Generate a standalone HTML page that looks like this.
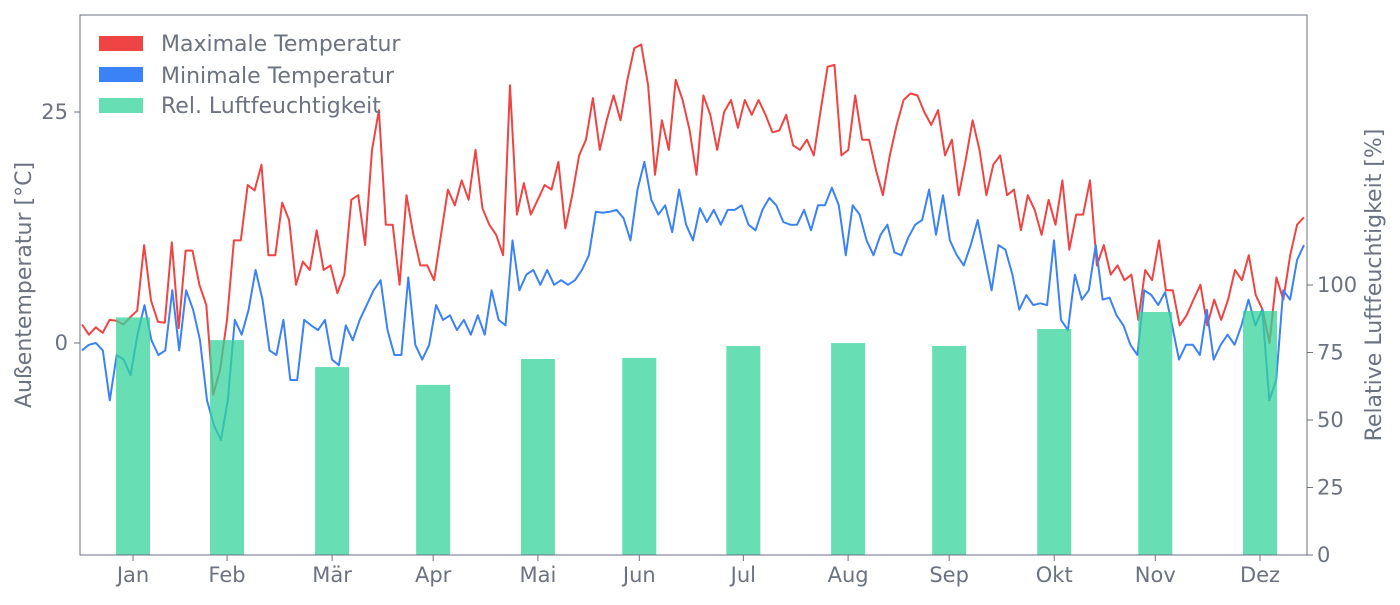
<!DOCTYPE html>
<html><head><meta charset="utf-8">
<style>
body{margin:0;background:#fff;}
svg text{font-family:"DejaVu Sans","Liberation Sans",sans-serif;fill:#6b7280;}
</style></head>
<body>
<svg id="chart" width="1400" height="600" xmlns="http://www.w3.org/2000/svg">
<g id="bars"></g>
<g id="lines"></g>
<g id="barsTop"></g>
<rect x="80" y="15" width="1227" height="540" fill="none" stroke="#6b7280" stroke-width="1"/>
<g id="axes"></g>
<text transform="translate(31,285) rotate(-90)" text-anchor="middle" font-size="22">Außentemperatur [°C]</text>
<text transform="translate(1381,285) rotate(-90)" text-anchor="middle" font-size="22">Relative Luftfeuchtigkeit [%]</text>
<g>
<g><rect x="99" y="36" width="44" height="15" fill="#ef4444"/><text x="161" y="51" font-size="22">Maximale Temperatur</text></g>
<g><rect x="99" y="67" width="44" height="15" fill="#3b82f6"/><text x="161" y="83" font-size="22">Minimale Temperatur</text></g>
<g><rect x="99" y="98" width="44" height="15" fill="#34d399" opacity="0.75"/><text x="161" y="113" font-size="22">Rel. Luftfeuchtigkeit</text></g>
</g>
</svg>
<script>
const months=["Jan","Feb","Mär","Apr","Mai","Jun","Jul","Aug","Sep","Okt","Nov","Dez"];
const humidity=[88,79.6,69.6,63,72.6,73,77.4,78.5,77.4,83.7,90,90.4];
const tempTicks=[0,25];
const humTicks=[0,25,50,75,100];
const tMax=[2.0,0.9,1.7,1.1,2.5,2.4,2.0,2.8,3.5,10.6,4.6,2.3,2.2,10.9,1.6,10.0,10.0,6.3,4.1,-5.6,-2.9,2.5,11.1,11.1,17.1,16.5,19.3,9.5,9.5,15.2,13.3,6.3,8.8,7.9,12.2,7.9,8.4,5.4,7.4,15.5,16.0,10.6,20.9,25.2,12.8,12.8,6.3,16.0,11.7,8.4,8.4,6.8,11.7,16.6,14.9,17.6,15.5,20.9,14.6,12.8,11.7,9.5,27.9,13.9,17.3,13.9,15.5,17.1,16.6,19.6,12.4,16.0,20.3,22.0,26.5,20.9,24.1,26.8,24.1,28.5,31.9,32.3,27.9,18.2,24.1,20.9,28.5,26.3,23.1,18.2,26.8,24.7,20.9,25.0,26.3,23.3,26.3,24.7,26.3,24.7,22.8,23.0,24.7,21.4,20.9,22.0,20.3,25.2,29.9,30.1,20.3,20.9,26.8,22.0,22.0,18.7,16.0,20.3,23.6,26.3,27.0,26.8,25.0,23.6,25.2,20.3,22.0,16.0,19.8,24.1,20.9,16.0,19.3,20.3,16.0,16.6,12.2,16.0,14.4,11.7,15.5,12.8,17.6,10.1,13.9,13.9,17.6,8.4,10.6,7.4,8.4,6.8,7.4,2.5,7.9,6.8,11.1,5.7,5.7,1.9,3.0,4.7,6.3,1.9,4.7,2.5,4.7,7.9,6.8,9.5,5.2,3.6,0.0,7.1,4.7,9.5,12.8,13.6];
const tMin=[-0.8,-0.2,0,-0.8,-6.2,-1.3,-1.8,-3.5,0.9,4.1,0.3,-1.3,-0.8,5.7,-0.8,5.7,3.6,0.3,-6.2,-8.9,-10.5,-6.2,2.5,0.9,3.6,7.9,4.7,-0.8,-1.3,2.5,-4.0,-4.0,2.5,1.9,1.4,2.5,-1.8,-2.4,1.9,0.3,2.5,4.1,5.7,6.8,1.4,-1.3,-1.3,7.1,-0.2,-1.8,-0.2,4.1,2.5,3.0,1.4,2.5,0.9,3.0,0.9,5.7,2.5,1.9,11.1,5.7,7.4,7.9,6.3,7.9,6.3,6.8,6.3,6.8,7.9,9.5,14.2,14.1,14.2,14.4,13.5,11.1,16.6,19.6,15.5,13.9,14.9,12.0,16.6,12.8,11.1,14.6,13.1,14.4,12.8,14.4,14.4,14.9,12.8,12.2,14.4,15.7,14.9,13.1,12.8,12.8,14.4,12.2,14.9,14.9,16.8,14.9,9.5,14.9,13.9,11.1,9.5,11.7,12.8,9.8,9.5,11.4,12.8,13.3,16.6,11.7,16.0,11.1,9.5,8.4,10.6,13.3,9.5,5.7,10.6,10.1,7.4,3.6,5.2,4.1,4.3,4.1,11.1,2.5,1.4,7.4,4.7,5.7,10.6,4.7,4.9,3.0,1.9,-0.2,-1.3,5.7,5.2,4.1,5.5,1.9,-1.8,-0.2,-0.2,-1.3,3.6,-1.8,-0.2,0.9,-0.2,1.9,4.7,1.9,3.6,-6.2,-4.0,5.7,4.7,9.0,10.6];
const midDays=[16.2,44.2,75.5,105.6,136.8,167,198,229.2,259.3,290.6,320.7,351.9];
const NS="http://www.w3.org/2000/svg";
const X0=82,X1=1304;
function xDay(d){return X0+(d-1)*(X1-X0)/364;}
function yT(t){return 343-t*9.24;}
function yH(h){return 555-h*2.7;}
function mk(tag,attrs,parent){const e=document.createElementNS(NS,tag);for(const k in attrs)e.setAttribute(k,attrs[k]);parent.appendChild(e);return e;}
const bars=document.getElementById('barsTop');
humidity.forEach((h,i)=>{
  const cx=xDay(midDays[i]);
  const r=mk('rect',{x:cx-17,y:yH(h),width:34,height:555-yH(h),fill:'#34d399','fill-opacity':0.75},bars);
  
  
});
const lines=document.getElementById('lines');
function line(arr,color,name){
  const n=arr.length;
  const pts=arr.map((v,i)=>xDay(1+i*364/(n-1)).toFixed(1)+','+yT(v).toFixed(1)).join(' ');
  const p=mk('polyline',{points:pts,fill:'none',stroke:color,'stroke-width':2,'stroke-linejoin':'round'},lines);
  
  
}
line(tMax,'#ef4444','max-temp-line');
line(tMin,'#3b82f6','min-temp-line');
const axes=document.getElementById('axes');
tempTicks.forEach(t=>{
  const y=yT(t);
  mk('line',{x1:74,x2:80,y1:y,y2:y,stroke:'#6b7280'},axes);
  const tx=mk('text',{x:68,y:y+7,'text-anchor':'end','font-size':21},axes);tx.textContent=t;
  
  
});
humTicks.forEach(h=>{
  const y=yH(h);
  mk('line',{x1:1307,x2:1313,y1:y,y2:y,stroke:'#6b7280'},axes);
  const tx=mk('text',{x:1317,y:y+7,'font-size':21},axes);tx.textContent=h;
  
  
});
months.forEach((m,i)=>{
  const x=xDay(midDays[i]);
  mk('line',{x1:x,x2:x,y1:555,y2:561,stroke:'#6b7280'},axes);
  const tx=mk('text',{x:x,y:582,'text-anchor':'middle','font-size':21},axes);tx.textContent=m;
  
  
});
</script>
</body></html>
